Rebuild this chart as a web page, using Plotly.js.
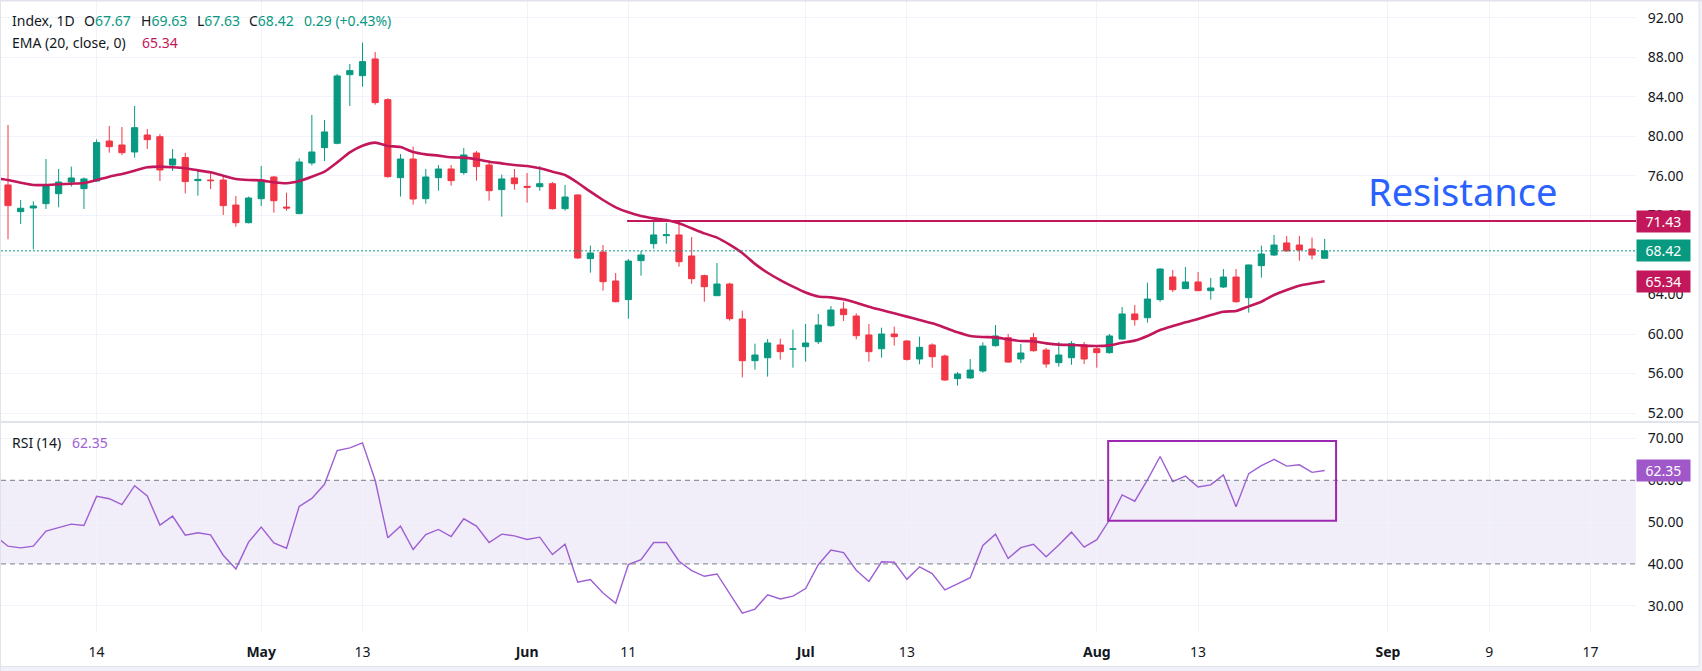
<!DOCTYPE html>
<html>
<head>
<meta charset="utf-8">
<script src="https://cdn.plot.ly/plotly-3.0.1.min.js"></script>
<style>
html,body{margin:0;padding:0;background:#ffffff;}
#chart{width:1702px;height:671px;}
</style>
</head>
<body>
<div id="chart"></div>
<script>
// ---- Daily OHLC (bar 0 = first visible candle, mid-April) ----
const opens  = [75.09,72.39,72.76,73.20,74.21,75.39,74.72,75.49,79.54,79.14,78.43,80.15,79.98,77.11,77.86,75.53,75.59,75.59,73.06,71.27,
                73.70,75.90,72.86,72.19,77.32,78.87,79.31,86.26,86.16,87.85,83.73,75.83,77.72,73.70,75.83,76.71,76.34,78.33,77.11,74.62,
                75.80,74.95,74.92,75.22,72.69,74.08,67.63,68.30,65.37,63.48,67.43,69.15,69.96,70.03,67.90,65.91,63.88,65.06,61.52,57.30,
                57.60,58.89,58.45,58.72,59.22,60.84,62.53,61.82,59.90,58.51,60.00,59.29,57.47,58.89,57.77,55.48,55.55,56.25,58.82,59.63,
                57.47,59.63,58.38,57.10,57.60,58.89,58.51,58.11,59.49,62.03,61.65,63.48,65.77,64.59,65.27,64.39,64.76,65.77,63.68,66.92,
                68.00,69.22,69.01,68.61,67.67];
const highs  = [81.16,73.57,73.43,77.72,76.71,76.95,75.86,79.71,81.06,80.96,83.09,80.76,80.25,78.73,78.36,76.71,76.47,76.10,73.97,73.91,
                77.01,76.00,74.31,77.79,82.18,81.67,86.33,87.34,89.50,88.56,83.87,78.23,78.97,76.71,77.11,77.11,78.84,78.53,77.59,76.14,
                76.71,76.30,77.01,75.39,75.09,74.11,68.95,69.01,66.18,67.59,68.41,71.38,71.24,71.54,69.82,66.01,67.19,65.20,62.36,59.02,
                59.49,59.53,60.44,61.01,62.03,62.84,63.27,62.09,61.01,60.64,60.74,59.39,59.73,59.05,57.91,56.15,57.47,59.16,60.91,60.00,
                58.99,60.10,58.58,59.19,59.29,59.19,58.72,60.00,62.73,62.94,65.20,66.65,66.48,66.78,66.28,65.67,66.58,66.58,67.03,68.95,
                70.03,69.92,69.92,69.76,69.63];
const lows   = [69.59,71.14,68.57,72.66,72.83,74.92,72.66,75.43,78.36,78.13,77.86,78.73,75.49,76.51,74.24,74.01,74.68,72.05,70.87,71.20,
                72.96,72.29,72.49,72.12,77.08,77.52,79.21,83.09,85.05,83.22,75.83,73.91,73.10,73.20,74.51,75.02,76.14,75.53,73.50,71.88,
                74.62,73.30,74.51,72.60,72.49,67.59,66.21,64.39,63.20,61.55,65.91,68.64,69.15,66.82,65.09,63.27,63.85,61.35,55.61,56.39,
                55.68,57.40,56.59,57.20,58.99,60.75,61.32,59.46,57.20,57.60,58.82,57.30,56.93,56.59,55.27,54.78,55.45,56.08,58.72,57.09,
                57.06,58.21,56.59,56.69,56.89,56.96,56.59,58.01,59.43,60.84,61.15,63.27,64.25,64.55,64.35,63.48,64.66,63.17,62.16,65.70,
                67.90,68.35,67.43,67.56,67.63];
const closes = [73.00,72.73,72.96,75.02,75.39,75.80,75.70,79.38,78.97,78.36,80.89,79.68,76.61,77.72,75.43,75.66,75.53,73.00,71.27,73.77,
                75.43,73.50,72.76,77.42,78.43,80.46,86.13,86.67,87.58,83.43,75.93,77.72,73.67,75.90,76.71,75.53,78.13,76.95,74.51,75.70,
                75.22,74.85,75.22,72.69,73.87,67.70,68.20,65.30,63.27,67.39,68.00,70.03,70.05,67.32,65.60,64.79,65.06,61.55,57.30,57.87,
                59.09,58.21,58.51,59.09,60.91,62.43,61.96,59.83,58.21,60.00,59.73,57.43,58.65,57.70,55.34,55.95,56.35,58.78,59.80,57.16,
                58.08,58.31,56.96,57.87,59.02,57.47,58.11,59.80,62.03,61.45,63.54,66.58,64.49,65.27,64.39,64.66,65.77,63.27,66.99,68.10,
                69.01,68.41,68.51,68.00,68.42];

// EMA(20); first value belongs to the bar just left of the first visible candle
const ema20 = [75.77,
               75.59,75.32,75.09,75.09,75.16,75.22,75.29,75.59,75.93,76.20,76.54,76.88,76.95,76.88,76.78,76.57,76.37,76.03,75.70,75.59,
               75.56,75.36,75.26,75.49,75.93,76.44,77.38,78.40,79.07,79.38,79.04,78.93,78.43,78.19,78.06,77.89,77.86,77.69,77.45,77.28,
               77.11,77.01,76.78,76.44,76.10,75.32,74.41,73.57,72.83,72.32,71.95,71.71,71.54,71.21,70.70,70.19,69.76,69.05,68.20,67.10,
               66.20,65.45,64.80,64.20,63.80,63.71,63.51,63.17,62.77,62.43,62.09,61.76,61.42,61.08,60.64,60.17,59.80,59.70,59.66,59.46,
               59.29,59.26,59.05,58.92,58.89,58.82,58.78,58.85,59.12,59.33,59.80,60.40,60.81,61.18,61.52,61.92,62.26,62.33,62.80,63.27,
               63.95,64.46,64.89,65.13,65.34];

// RSI(14); first value belongs to the bar before the first visible candle
const rsi14 = [46.6,
               44.24,43.84,44.24,47.84,48.64,49.52,49.20,56.16,55.60,54.16,58.72,56.24,49.28,51.44,46.88,47.44,46.96,42.08,38.80,45.20,
               48.80,45.04,43.76,53.76,55.68,59.04,67.12,67.76,68.96,60.00,46.24,49.04,43.44,47.04,48.24,46.56,50.80,49.04,45.12,47.12,
               46.72,45.84,46.40,42.24,44.72,35.60,36.24,33.04,30.60,39.84,41.04,45.12,45.12,40.64,38.40,37.04,37.60,33.00,28.20,29.20,
               32.60,31.60,32.30,34.10,39.80,43.30,42.70,38.50,35.80,40.50,40.40,36.30,39.30,37.70,33.80,35.20,36.70,44.40,47.10,41.30,
               43.90,44.70,41.70,44.50,47.60,44.00,45.80,50.50,56.50,55.00,60.10,65.70,59.70,61.00,58.40,58.90,61.30,53.70,61.60,63.50,
               65.00,63.40,63.70,61.90,62.35];

// Time-axis ticks (bar numbers) and their labels
const tickBars   = [7, 20, 28, 41, 49, 63, 71, 86, 94, 109, 117, 125];
const tickLabels = ['14','<b>May</b>','13','<b>Jun</b>','11','<b>Jul</b>','13','<b>Aug</b>','13','<b>Sep</b>','9','17'];
const priceTicks = [52, 56, 60, 64, 68, 72, 76, 80, 84, 88, 92];
const priceTicksHiddenLabel = [68];   // fully covered by the last-price tag in the reference
const rsiTicks   = [30, 40, 50, 60, 70];

// Levels and annotations
const resistanceLevel = 71.43;
const resistanceFromBar = 48.9;
const lastClose = 68.42;
const emaLast = 65.34;
const rsiLast = 62.35;
const rsiUpper = 60, rsiLower = 40;
const rsiBox = {fromBar: 86.9, toBar: 104.9, low: 50.3, high: 69.4};
const header = {symbol: 'Index, 1D', o: '67.67', h: '69.63', l: '67.63', c: '68.42', chg: '0.29 (+0.43%)'};

// ---- colours ----
const UP = '#089981', DOWN = '#f23645', EMA_C = '#c2185b', RSI_C = '#9d5fd3', RSI_TAG = '#a057c9',
      TXT = '#131722', GRID = '#f0f3fa', FRAME = '#e0e3eb', FRAME_FILL = '#f0f2f7';

const W = 1702, H = 671;
const px = v => v / W;
const py = v => 1 - v / H;

const bars = opens.map((_, i) => i);
const emaX = ema20.map((_, i) => i - 1);
const rsiX = rsi14.map((_, i) => i - 1);
const xRange = [-0.553, 128.59];

const traces = [
  {type: 'candlestick', x: bars, open: opens, high: highs, low: lows, close: closes,
   xaxis: 'x', yaxis: 'y', whiskerwidth: 0, hoverinfo: 'skip',
   increasing: {line: {color: UP, width: 1}, fillcolor: UP},
   decreasing: {line: {color: DOWN, width: 1}, fillcolor: DOWN}},
  {type: 'scatter', mode: 'lines', x: emaX, y: ema20, xaxis: 'x', yaxis: 'y',
   line: {color: EMA_C, width: 2.6, shape: 'spline', smoothing: 0.6}, hoverinfo: 'skip'},
  {type: 'scatter', mode: 'lines', x: rsiX, y: rsi14, xaxis: 'x2', yaxis: 'y2',
   line: {color: RSI_C, width: 1.4}, hoverinfo: 'skip'}
];

const axisFont = {family: 'Noto Sans, sans-serif', size: 14, color: TXT};

const shapes = [
  // RSI band
  {type: 'rect', xref: 'paper', yref: 'y2', x0: px(1), x1: px(1636), y0: rsiLower, y1: rsiUpper,
   fillcolor: 'rgba(126,87,194,0.1)', line: {width: 0}, layer: 'below'},
  {type: 'line', xref: 'paper', yref: 'y2', x0: px(1), x1: px(1636), y0: rsiUpper, y1: rsiUpper,
   line: {color: '#787b86', width: 1, dash: '5px,4px'}},
  {type: 'line', xref: 'paper', yref: 'y2', x0: px(1), x1: px(1636), y0: rsiLower, y1: rsiLower,
   line: {color: '#787b86', width: 1, dash: '5px,4px'}},
  // RSI highlight box
  {type: 'rect', xref: 'x2', yref: 'y2', x0: rsiBox.fromBar, x1: rsiBox.toBar, y0: rsiBox.low, y1: rsiBox.high,
   line: {color: '#9c27b0', width: 2}, fillcolor: 'rgba(0,0,0,0)'},
  // last close dotted line
  {type: 'line', xref: 'paper', yref: 'y', x0: px(1), x1: px(1636), y0: lastClose, y1: lastClose,
   line: {color: UP, width: 1, dash: '2px,2px'}},
  // resistance line
  {type: 'line', xref: 'x', yref: 'y', x0: resistanceFromBar, x1: xRange[1], y0: resistanceLevel, y1: resistanceLevel,
   line: {color: EMA_C, width: 2}},
  // pane separator
  {type: 'line', xref: 'paper', yref: 'paper', x0: 0, x1: 1, y0: py(422), y1: py(422),
   line: {color: FRAME, width: 2}},
  // outer frame: bottom and right bands, thin top/left edges
  {type: 'rect', xref: 'paper', yref: 'paper', x0: 0, x1: 1, y0: 0, y1: py(666.5),
   fillcolor: FRAME_FILL, line: {width: 0}},
  {type: 'line', xref: 'paper', yref: 'paper', x0: 0, x1: 1, y0: py(666.5), y1: py(666.5),
   line: {color: FRAME, width: 1}},
  {type: 'rect', xref: 'paper', yref: 'paper', x0: px(1699), x1: 1, y0: 0, y1: 1,
   fillcolor: FRAME_FILL, line: {width: 0}},
  {type: 'line', xref: 'paper', yref: 'paper', x0: px(1699), x1: px(1699), y0: py(666.5), y1: 1,
   line: {color: FRAME, width: 1}},
  {type: 'line', xref: 'paper', yref: 'paper', x0: 0, x1: 1, y0: 1, y1: 1,
   line: {color: FRAME, width: 3}},
  {type: 'line', xref: 'paper', yref: 'paper', x0: 0, x1: 0, y0: 0, y1: 1,
   line: {color: FRAME, width: 2}}
];

function hdr(xpx, ypx, text) {
  return {xref: 'paper', yref: 'paper', x: px(xpx), y: py(ypx), xanchor: 'left', yanchor: 'middle',
          text: text, showarrow: false, font: {family: 'Noto Sans, sans-serif', size: 14, color: TXT}, borderpad: 0};
}
function tag(yref, val, color, text) {
  return {xref: 'paper', yref: yref, x: px(1636), y: val, xanchor: 'left', yanchor: 'middle',
          text: text, showarrow: false, bgcolor: color, borderpad: 1, width: 51, align: 'center',
          font: {family: 'Noto Sans, sans-serif', size: 14, color: '#ffffff'}};
}
const g = s => `<span style="color:${UP}">${s}</span>`;

const annotations = [
  hdr(10.5, 20.7, header.symbol),
  hdr(83, 20.7, 'O' + g(header.o)),
  hdr(139.5, 20.7, 'H' + g(header.h)),
  hdr(195.5, 20.7, 'L' + g(header.l)),
  hdr(248, 20.7, 'C' + g(header.c)),
  hdr(303, 20.7, g(header.chg)),
  hdr(10.5, 42.3, 'EMA (20, close, 0)'),
  hdr(140.5, 42.3, `<span style="color:${EMA_C}">${emaLast.toFixed(2)}</span>`),
  hdr(10.5, 442.3, 'RSI (14)'),
  hdr(70.5, 442.3, `<span style="color:${RSI_C}">${rsiLast.toFixed(2)}</span>`),
  {xref: 'paper', yref: 'y', x: px(1462.5), y: 74.48, xanchor: 'center', yanchor: 'middle',
   text: 'Resistance', showarrow: false, font: {family: 'Noto Sans, sans-serif', size: 38, color: '#2962ff'}},
  tag('y', resistanceLevel, EMA_C, resistanceLevel.toFixed(2)),
  tag('y', lastClose, UP, lastClose.toFixed(2)),
  tag('y', emaLast, EMA_C, emaLast.toFixed(2)),
  tag('y2', rsiLast, RSI_TAG, rsiLast.toFixed(2))
];

const layout = {
  width: W, height: H, margin: {l: 0, r: 0, t: 0, b: 0},
  paper_bgcolor: '#ffffff', plot_bgcolor: '#ffffff', showlegend: false,
  font: axisFont, boxgap: 0.3, hovermode: false,
  xaxis: {domain: [px(1), px(1636)], range: xRange, anchor: 'y', tickvals: tickBars, ticktext: tickLabels,
          showticklabels: false, showgrid: true, gridcolor: GRID, gridwidth: 1, zeroline: false, showline: false,
          ticks: '', rangeslider: {visible: false}, fixedrange: true},
  xaxis2: {domain: [px(1), px(1636)], range: xRange, anchor: 'y2', tickvals: tickBars, ticktext: tickLabels,
           showticklabels: true, showgrid: true, gridcolor: GRID, gridwidth: 1, zeroline: false, showline: false,
           ticks: 'outside', ticklen: 7, tickcolor: 'rgba(0,0,0,0)', tickfont: axisFont, fixedrange: true},
  yaxis: {domain: [py(422), 1], range: [51.09, 93.82], side: 'right', anchor: 'x',
          tickvals: priceTicks,
          ticktext: priceTicks.map(v => priceTicksHiddenLabel.includes(v) ? '' : v.toFixed(2)),
          showgrid: true, gridcolor: GRID,
          zeroline: false, showline: false, ticks: 'outside', ticklen: 8, tickcolor: 'rgba(0,0,0,0)',
          tickfont: axisFont, fixedrange: true},
  yaxis2: {domain: [py(632), py(422)], range: [23.71, 73.95], side: 'right', anchor: 'x2',
           tickvals: rsiTicks, ticktext: rsiTicks.map(v => v.toFixed(2)), showgrid: true, gridcolor: GRID,
           zeroline: false, showline: false, ticks: 'outside', ticklen: 8, tickcolor: 'rgba(0,0,0,0)',
           tickfont: axisFont, fixedrange: true},
  shapes: shapes,
  annotations: annotations
};

Plotly.newPlot('chart', traces, layout, {displayModeBar: false, staticPlot: true});
</script>
</body>
</html>
